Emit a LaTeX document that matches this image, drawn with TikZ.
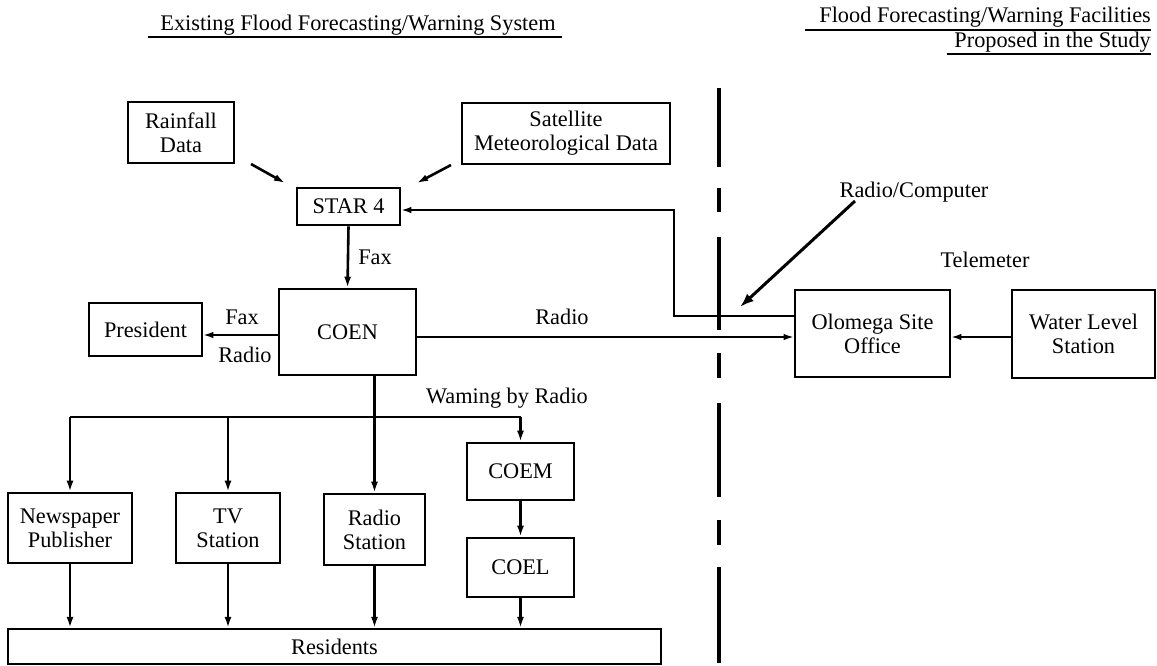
\documentclass[tikz,border=0pt]{standalone}
\usepackage{fontspec}
\setmainfont{Liberation Serif}
\usetikzlibrary{arrows.meta}
\newcommand{\dgfont}{\fontsize{22.3}{24}\selectfont}
\begin{document}
\begin{tikzpicture}[x=1pt,y=-1pt,
  box/.style={draw,line width=2.6pt,inner sep=0pt,align=center,font=\dgfont,rectangle},
  lbl/.style={inner sep=0pt,font=\dgfont,align=center},
  link/.style={line width=2.6pt},
  arr/.style={line width=2.6pt,-{Latex[length=11pt,width=7pt]}},
  thinarr/.style={line width=1.7pt,-{Latex[length=10pt,width=6.5pt]}},
  bigarr/.style={line width=3pt,-{Latex[length=14pt,width=10pt]}},
  sep/.style={line width=4pt},
  uline/.style={line width=1.6pt}]
\fill[white] (0,0) rectangle (1157,665);
\useasboundingbox (0,0) rectangle (1157,665);

% titles
\node[lbl] (t1) at (358,25) {Existing Flood Forecasting/Warning System};
\draw[uline] (148,37) -- (562,37);
\node[lbl,anchor=east] (t2) at (1151,17) {Flood Forecasting/Warning Facilities};
\draw[uline] (805,30) -- (1151,30);
\node[lbl,anchor=east] (t3) at (1151,42) {Proposed in the Study};
\draw[uline] (947,54) -- (1151,54);

% boxes
\node[box,minimum width=106pt,minimum height=61pt] (rain) at (181,132.5) {Rainfall\\Data};
\node[box,minimum width=208pt,minimum height=61pt] (sat) at (566,133.5) {Satellite\\Meteorological Data};
\node[box,minimum width=103pt,minimum height=37pt] (star) at (348.5,206.5) {STAR 4};
\node[box,minimum width=137pt,minimum height=86pt] (coen) at (347.5,332) {COEN};
\node[box,minimum width=113pt,minimum height=53pt] (pres) at (145.5,329.5) {President};
\node[box,minimum width=155pt,minimum height=87pt] (olo) at (872.5,333.5) {Olomega Site\\Office};
\node[box,minimum width=143pt,minimum height=88pt] (wl) at (1083.5,334) {Water Level\\Station};
\node[box,minimum width=124pt,minimum height=70pt] (news) at (70,528) {Newspaper\\Publisher};
\node[box,minimum width=104pt,minimum height=70pt] (tv) at (228,528) {TV\\Station};
\node[box,minimum width=101pt,minimum height=71pt] (rs) at (374.5,529.5) {Radio\\Station};
\node[box,minimum width=107pt,minimum height=57pt] (coem) at (520.5,471.5) {COEM};
\node[box,minimum width=107pt,minimum height=59pt] (coel) at (520.5,567.5) {COEL};
\node[box,line width=2.2pt,minimum width=653pt,minimum height=35pt] (res) at (334.5,646.5) {Residents};

% inputs to STAR 4
\coordinate (ra1) at (251,164); \coordinate (ra2) at (285,183);
\coordinate (sa1) at (451,165); \coordinate (sa2) at (417,183);
\draw[arr] (ra1) -- (ra2);
\draw[arr] (sa1) -- (sa2);

% STAR 4 -> COEN
\draw[arr] (star.south) -- (coen.north);
\node[lbl] (fax1) at (375,257) {Fax};

% COEN -> President
\draw[thinarr] (coen.west |- 0,335) -- (pres.east |- 0,335);
\node[lbl] (fax2) at (242,317) {Fax};
\node[lbl] (rad2) at (245,355) {Radio};

% COEN -> Olomega
\draw[thinarr] (coen.east |- 0,337) -- (olo.west |- 0,337);
\node[lbl] (rad1) at (562,317) {Radio};

% Olomega -> STAR 4
\draw[thinarr] (olo.west |- 0,316) -- ++(-120,0) |- (star.east |- 0,210);

% Radio/Computer
\node[lbl] (rc) at (914,192) {Radio/Computer};
\coordinate (rc1) at (855,201); \coordinate (rc2) at (740,307);
\draw[bigarr] (rc1) -- (rc2);

% Water level -> Olomega
\draw[thinarr] (wl.west |- 0,337) -- (olo.east |- 0,337);
\node[lbl] (tel) at (985,260) {Telemeter};

% COEN distribution
\coordinate (busL) at (news.north |- 0,417);
\coordinate (busR) at (coem.north |- 0,417);
\draw[link] (busL) -- (busR);
\draw[link] (coen.south -| rs.north) -- (rs.north |- busL);
\draw[arr] (busL) -- (news.north);
\draw[arr] (tv.north |- busL) -- (tv.north);
\draw[arr] (rs.north |- busL) -- (rs.north);
\draw[arr] (busR) -- (coem.north);
\node[lbl] (warn) at (507,398) {Waming by Radio};
\draw[arr] (coem.south) -- (coel.north);

% to Residents
\draw[arr] (news.south) -- (news.south |- res.north);
\draw[arr] (tv.south) -- (tv.south |- res.north);
\draw[arr] (rs.south) -- (rs.south |- res.north);
\draw[arr] (coel.south) -- (coel.south |- res.north);

% separator
\foreach \a/\b in {88/167,188/212,237/330,353/378,403/497,520/545,567/663}
  \draw[sep] (719,\a) -- (719,\b);
\end{tikzpicture}
\end{document}
